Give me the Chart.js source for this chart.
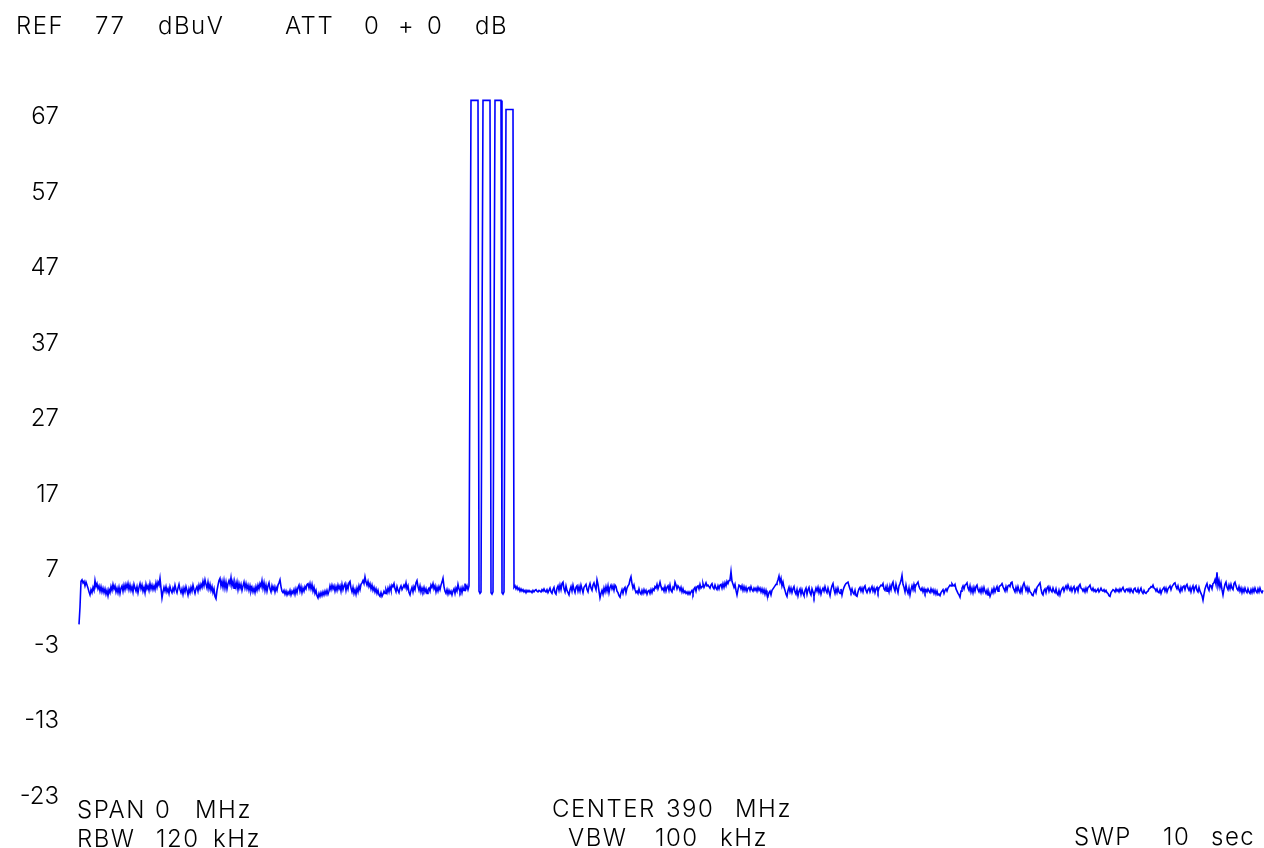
<!DOCTYPE html>
<html>
<head>
<meta charset="utf-8">
<script src="https://cdn.jsdelivr.net/npm/chart.js@4.4.1/dist/chart.umd.min.js"></script>
<style>
  html, body { margin: 0; padding: 0; background: #fff; }
  #wrap { width: 1264px; height: 848px; }
</style>
</head>
<body>
<div id="wrap"><canvas id="spectrum" width="1264" height="848"></canvas></div>
<script>
// zero span sweep, one sample per screen column, level in dBuV

// noise floor before the burst
const traceA = [
  -0.2, 2.1, 5.5, 5.7, 5.3, 5.5, 4.9, 5.4, 5.0, 4.6, 4.1, 3.7, 4.4, 4.0, 4.7, 4.3, 5.6, 4.8, 5.2, 4.5, 4.9, 4.2, 4.8, 4.1, 4.6,
  4.0, 4.5, 3.8, 4.3, 3.6, 4.4, 4.0, 4.8, 4.3, 5.1, 4.5, 4.9, 4.1, 4.6, 4.0, 4.7, 3.9, 4.6, 4.9, 4.2, 5.0, 4.4, 5.1, 4.6, 5.2,
  4.4, 5.0, 4.3, 4.8, 4.1, 5.1, 4.6, 4.2, 4.8, 4.0, 4.7, 5.2, 4.5, 5.0, 4.2, 4.7, 4.0, 5.1, 4.5, 4.9, 4.3, 5.2, 4.5, 5.0, 4.4,
  4.9, 4.4, 5.3, 4.7, 5.4, 5.0, 5.9, 4.6, 3.3, 4.1, 4.7, 4.2, 4.8, 4.1, 4.5, 3.9, 4.8, 4.3, 4.0, 4.6, 4.2, 5.0, 4.4, 4.0, 4.6,
  5.1, 4.4, 4.0, 4.5, 3.8, 4.6, 4.1, 4.8, 4.3, 3.7, 4.5, 4.0, 4.7, 4.2, 5.0, 4.4, 3.9, 4.5, 4.8, 4.2, 5.0, 4.5, 5.1, 4.7, 5.5,
  4.9, 5.7, 5.1, 4.6, 5.4, 4.5, 5.1, 4.3, 4.8, 4.0, 4.5, 3.5, 3.2, 4.3, 5.0, 5.6, 5.9, 4.9, 5.5, 4.7, 5.6, 4.6, 5.4, 4.5, 5.2,
  5.6, 5.1, 6.0, 4.9, 5.5, 4.6, 5.3, 4.7, 5.4, 4.4, 5.2, 4.6, 5.1, 4.3, 4.9, 5.4, 4.6, 5.2, 4.5, 5.0, 4.3, 4.9, 4.2, 4.7, 4.1,
  4.6, 4.0, 4.8, 4.3, 5.0, 4.5, 5.2, 4.8, 5.6, 4.6, 5.3, 4.3, 5.0, 4.2, 4.9, 5.3, 4.5, 4.1, 4.9, 4.4, 4.8, 4.1, 4.7, 4.3, 5.0,
  5.3, 5.7, 4.8, 4.2, 4.0, 4.3, 3.8, 4.2, 3.7, 4.1, 3.8, 4.3, 3.7, 4.2, 3.9, 4.4, 3.8, 4.5, 4.0, 4.7, 5.0, 4.2, 4.8, 4.0, 4.6,
  4.2, 4.8, 4.5, 5.1, 5.2, 4.6, 5.2, 4.5, 5.1, 4.2, 4.7, 3.9, 4.3, 3.6, 3.3, 3.9, 3.5, 4.0, 3.6, 4.1, 3.7, 4.2, 3.8, 4.3, 3.8,
  4.2, 4.9, 4.4, 5.0, 4.5, 4.9, 4.2, 4.8, 4.3, 5.0, 4.5, 4.9, 4.2, 5.1, 4.4, 4.9, 5.2, 4.3, 5.0, 4.5, 5.3, 5.5, 4.6, 4.1, 4.7,
  3.9, 4.4, 3.8, 4.6, 4.1, 4.9, 4.4, 5.1, 5.3, 5.6, 5.2, 6.1, 5.4, 5.0, 5.5, 4.8, 5.2, 4.5, 5.0, 4.3, 4.7, 4.1, 4.5, 3.9, 4.3,
  3.7, 3.5, 4.0, 3.5, 3.8, 4.2, 3.9, 4.4, 4.0, 4.6, 4.1, 4.8, 4.3, 5.0, 4.8, 5.2, 4.5, 4.1, 4.8, 4.3, 4.0, 4.6, 4.9, 4.4, 4.7,
  5.0, 4.7, 5.3, 4.5, 4.9, 4.0, 3.7, 4.3, 4.7, 4.1, 4.8, 4.4, 5.3, 5.6, 4.8, 4.3, 4.9, 4.1, 4.6, 4.2, 4.7, 4.1, 4.5, 3.9, 4.4,
  4.6, 4.2, 5.0, 4.7, 5.2, 4.5, 4.9, 4.1, 4.7, 4.2, 4.8, 4.4, 5.0, 5.4, 5.9, 4.8, 4.2, 3.9, 4.4, 3.8, 4.3, 3.9, 4.2, 3.7, 4.2,
  4.5, 3.9, 4.6, 4.2, 5.1, 4.5, 4.1, 4.6, 4.0, 4.7, 4.3, 5.2, 4.5, 4.9, 4.4, 4.9
];

// the four pulses
const burst = [
  37.2, 69.2, 69.2, 69.2, 69.2, 69.2, 69.2, 69.2, 69.2, 4.2, 3.9, 4.1,
  37.0, 69.2, 69.2, 69.2, 69.2, 69.2, 69.2, 69.2, 69.2, 4.0, 3.8, 4.1,
  36.8, 69.2, 69.2, 69.2, 69.2, 69.2, 69.2, 69.2, 4.0, 3.8, 4.1,
  36.0, 68.0, 68.0, 68.0, 68.0, 68.0, 68.0, 68.0, 68.0
];

// noise floor after the burst
const traceB = [
  4.7, 4.9, 4.5, 4.8, 4.4, 4.6, 4.2, 4.5, 4.2, 4.4, 4.1, 4.3, 4.0, 4.3, 4.1,
  4.3, 4.1, 4.2, 4.0, 4.3, 4.1, 4.3, 4.4, 4.2, 4.1, 4.3, 4.2, 4.1, 4.4, 4.2, 4.5, 4.2, 4.1, 4.4, 4.0, 4.3, 4.6, 4.1, 3.9, 4.4,
  4.7, 4.0, 3.8, 4.6, 4.9, 4.3, 5.0, 4.4, 5.2, 5.4, 4.5, 4.1, 4.9, 4.3, 4.0, 3.7, 4.4, 4.8, 4.2, 5.0, 4.4, 4.0, 4.7, 4.9, 4.2,
  4.8, 4.2, 5.0, 4.5, 4.0, 4.7, 4.9, 5.1, 4.4, 4.1, 4.8, 5.2, 4.6, 4.3, 5.0, 5.3, 4.8, 4.4, 5.7, 5.1, 4.2, 3.3, 3.9, 4.3, 3.8,
  4.6, 4.1, 4.8, 4.2, 4.9, 4.0, 4.7, 5.0, 4.5, 4.9, 4.3, 5.0, 4.8, 4.2, 4.0, 3.6, 3.4, 4.0, 4.4, 3.9, 4.5, 4.7, 4.0, 4.6, 4.9,
  5.1, 5.7, 6.1, 5.2, 4.6, 5.0, 4.4, 4.0, 4.2, 3.9, 4.5, 4.0, 3.8, 4.3, 3.9, 4.4, 4.0, 4.3, 3.8, 4.2, 4.3, 3.9, 4.4, 4.0, 4.5,
  4.3, 4.8, 4.6, 5.1, 4.5, 4.9, 5.4, 4.8, 4.4, 4.6, 4.2, 4.8, 4.2, 4.7, 4.9, 4.3, 5.0, 4.3, 4.1, 4.7, 4.5, 5.4, 5.0, 4.5, 4.9,
  4.7, 4.3, 4.7, 4.1, 4.5, 4.0, 4.2, 3.9, 4.1, 3.8, 4.1, 3.8, 4.1, 4.3, 3.9, 4.5, 4.7, 4.2, 4.8, 4.9, 4.5, 5.1, 4.6, 4.8, 5.2,
  4.7, 5.0, 5.3, 4.9, 5.0, 4.8, 4.6, 5.0, 5.2, 4.7, 4.5, 5.0, 4.6, 4.4, 4.9, 4.5, 5.0, 5.1, 4.6, 5.2, 4.7, 5.3, 4.9, 5.5, 5.2,
  5.6, 5.7, 6.8, 5.5, 5.1, 4.7, 5.1, 4.3, 3.7, 4.4, 5.0, 4.9, 4.5, 4.9, 4.3, 4.8, 4.3, 4.7, 4.2, 4.6, 4.7, 4.3, 4.8, 4.4, 4.2,
  4.6, 4.3, 4.6, 4.2, 4.7, 4.3, 4.6, 4.1, 4.5, 4.0, 4.4, 3.8, 4.3, 3.7, 3.5, 4.0, 4.2, 3.7, 4.3, 4.5, 4.7, 4.9, 5.1, 5.3, 5.7,
  6.2, 5.4, 5.9, 4.9, 5.4, 4.7, 4.3, 3.8, 3.5, 4.3, 4.7, 4.1, 4.6, 4.0, 4.5, 4.8, 4.1, 3.8, 4.4, 3.6, 4.2, 4.5, 3.8, 4.4, 3.9,
  3.6, 4.3, 4.6, 3.8, 4.4, 4.7, 4.0, 3.7, 4.5, 4.1, 3.5, 4.1, 4.6, 4.2, 4.7, 4.0, 4.5, 3.8, 4.3, 4.6, 4.2, 4.8, 4.3, 4.0, 4.6,
  4.1, 3.6, 4.4, 4.9, 5.2, 4.4, 3.9, 4.5, 4.0, 4.6, 4.1, 3.9, 4.5, 3.7, 4.3, 4.7, 5.0, 5.2, 5.3, 5.4, 4.9, 4.5, 4.1, 4.5, 4.0,
  3.8, 4.3, 3.6, 3.5, 4.1, 4.5, 4.7, 4.2, 4.6, 4.1, 4.7, 4.9, 4.3, 4.0, 4.4, 4.6, 4.1, 4.5, 4.8, 4.2, 4.6, 4.0, 4.5, 4.7, 4.1,
  4.6, 4.8, 5.0, 4.9, 5.2, 4.5, 4.3, 4.8, 4.2, 4.6, 4.1, 4.9, 4.4, 5.1, 5.4, 4.6, 4.2, 5.1, 4.5, 4.0, 4.9, 5.2, 5.6, 6.3, 5.1,
  4.7, 4.1, 5.0, 4.3, 3.9, 4.6, 3.7, 4.4, 4.9, 4.4, 5.1, 4.6, 5.0, 5.2, 5.4, 4.8, 4.5, 4.3, 4.6, 4.1, 4.5, 4.0, 4.4, 4.1, 4.5,
  4.2, 4.0, 4.5, 4.1, 4.4, 3.9, 4.3, 3.8, 4.2, 3.7, 3.8, 3.6, 4.0, 4.2, 4.4, 3.9, 4.3, 4.5, 4.2, 4.6, 4.8, 5.0, 4.9, 5.2, 5.0,
  4.9, 5.1, 4.5, 4.2, 3.9, 3.7, 3.4, 4.2, 4.6, 4.9, 4.5, 5.0, 5.1, 5.3, 4.6, 4.3, 4.9, 4.1, 4.6, 4.0, 4.7, 4.2, 4.8, 5.0, 4.4,
  4.1, 4.5, 4.0, 4.6, 4.1, 4.7, 4.2, 3.9, 4.3, 3.7, 4.0, 3.5, 3.9, 4.4, 4.0, 4.6, 4.1, 4.5, 4.8, 4.2, 4.7, 4.9, 5.0, 5.2, 4.8,
  4.5, 4.2, 4.8, 4.3, 4.9, 5.0, 4.8, 5.3, 5.4, 4.7, 4.4, 4.1, 4.7, 4.2, 4.8, 4.3, 4.0, 4.6, 4.1, 5.0, 5.3, 4.8, 4.3, 4.7, 4.1,
  4.6, 4.1, 4.0, 3.7, 3.6, 4.1, 4.4, 4.0, 4.7, 4.9, 5.1, 5.3, 4.5, 3.9, 3.7, 4.3, 4.5, 4.0, 4.6, 4.8, 4.2, 4.7, 4.3, 4.1, 4.6,
  4.2, 4.0, 4.5, 3.9, 3.7, 4.3, 3.7, 4.2, 4.5, 4.7, 4.2, 4.6, 4.9, 4.5, 5.0, 4.6, 4.3, 4.7, 4.2, 4.6, 4.8, 4.1, 4.5, 4.7, 4.2,
  4.9, 5.1, 4.6, 4.5, 4.2, 4.5, 4.1, 4.6, 4.2, 4.7, 4.8, 5.0, 4.5, 4.3, 4.6, 4.2, 4.4, 4.1, 4.3, 4.5, 4.1, 4.3, 4.6, 4.3, 4.2,
  4.4, 4.1, 4.3, 4.0, 3.9, 3.6, 3.5, 4.0, 4.2, 4.4, 4.3, 4.1, 4.5, 4.2, 4.4, 4.1, 4.5, 4.2, 4.5, 4.7, 4.3, 4.1, 4.4, 4.5, 4.2,
  4.5, 4.1, 4.5, 4.2, 4.0, 4.5, 4.6, 4.2, 4.1, 4.5, 4.0, 4.3, 4.6, 4.1, 3.9, 4.3, 4.0, 3.9, 4.1, 4.2, 4.5, 4.6, 4.8, 4.7, 5.0,
  4.6, 4.5, 4.2, 4.5, 4.1, 4.0, 4.4, 3.9, 4.3, 4.5, 4.7, 4.2, 4.6, 4.1, 4.5, 4.7, 4.9, 4.4, 4.8, 5.0, 5.2, 5.3, 4.8, 4.5, 4.9,
  4.4, 4.1, 4.7, 4.3, 4.8, 4.9, 4.4, 4.9, 5.1, 4.6, 4.3, 4.7, 4.1, 4.6, 4.9, 4.2, 4.7, 4.9, 4.3, 4.1, 4.7, 4.2, 3.9, 3.6, 3.0,
  3.8, 4.5, 4.9, 5.2, 4.6, 4.3, 5.0, 4.9, 4.5, 5.2, 5.3, 5.7, 5.1, 6.7, 4.9, 5.6, 4.7, 5.3, 4.4, 3.7, 4.5, 5.1, 5.4, 4.7, 4.4,
  5.0, 4.5, 5.1, 4.6, 4.4, 5.2, 5.4, 4.9, 4.5, 4.3, 4.8, 4.2, 4.6, 4.0, 4.5, 4.1, 4.6, 4.2, 4.0, 4.5, 4.1, 3.9, 4.4, 4.0, 4.5,
  4.1, 4.6, 4.2, 4.0, 4.5, 4.1, 4.6, 4.2, 4.0, 4.3
];

const trace = [...traceA, ...burst, ...traceB];

const yTicks = [67, 57, 47, 37, 27, 17, 7, -3, -13, -23];

const headerWords = ['REF', '77', 'dBuV', 'ATT', '0', '+', '0', 'dB'];
const spanWords = ['SPAN', '0', 'MHz'];
const rbwWords = ['RBW', '120', 'kHz'];
const centerWords = ['CENTER', '390', 'MHz'];
const vbwWords = ['VBW', '100', 'kHz'];
const swpWords = ['SWP', '10', 'sec'];

const FONT = '300 24px Inter';

const readout = {
  id: 'readout',
  afterDraw(chart) {
    const ctx = chart.ctx;
    ctx.save();
    ctx.font = FONT;
    ctx.letterSpacing = '1.5px';
    ctx.fillStyle = '#000';
    ctx.textBaseline = 'alphabetic';
    const put = (words, xs, y) => words.forEach((w, i) => ctx.fillText(w, xs[i], y));
    put(headerWords, [16, 95, 158, 285, 364, 398, 427, 475], 34);
    put(spanWords, [77, 155, 195], 818);
    put(rbwWords, [77, 156, 213], 847);
    put(centerWords, [552, 666, 735], 817);
    put(vbwWords, [568, 655, 720], 846);
    put(swpWords, [1074, 1163, 1211], 845);
    ctx.restore();
  }
};

new Chart(document.getElementById('spectrum'), {
  type: 'line',
  data: {
    labels: trace.map((v, i) => i),
    datasets: [{
      data: trace,
      borderColor: '#0000ff',
      borderWidth: 1.6,
      pointRadius: 0,
      tension: 0,
      fill: false,
      clip: false
    }]
  },
  options: {
    responsive: false,
    animation: false,
    devicePixelRatio: 1,
    layout: { padding: { left: 0, right: 1, top: 41.5, bottom: 51.5 } },
    plugins: {
      legend: { display: false },
      tooltip: { enabled: false }
    },
    scales: {
      x: { type: 'linear', min: 0, max: trace.length - 1, display: false },
      y: {
        min: -23,
        max: 77,
        grid: { display: false, drawTicks: false },
        border: { display: false },
        afterBuildTicks: (scale) => { scale.ticks = yTicks.map(v => ({ value: v })); },
        afterFit: (scale) => { scale.width = 79; },
        ticks: {
          padding: 20,
          color: '#000',
          font: { family: 'Inter', size: 24, weight: '300' }
        }
      }
    }
  },
  plugins: [readout]
});
</script>
</body>
</html>
